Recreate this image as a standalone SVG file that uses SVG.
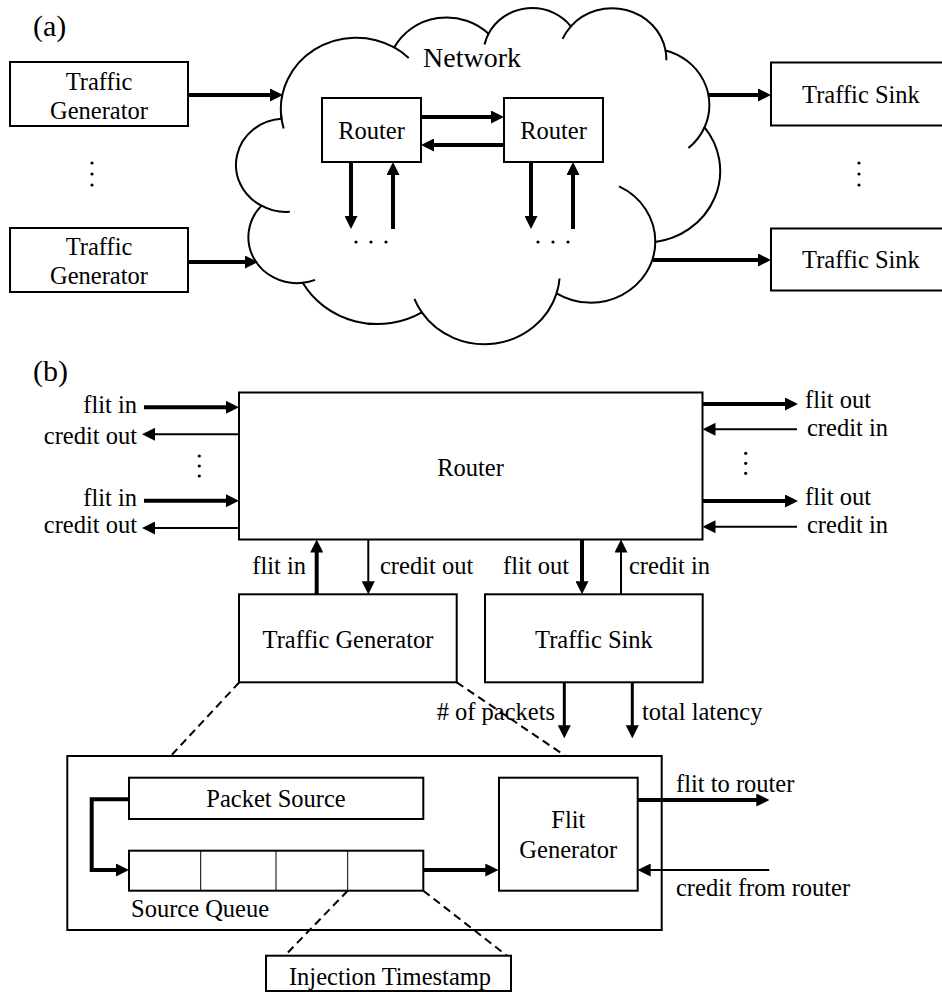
<svg xmlns="http://www.w3.org/2000/svg" width="942" height="997" viewBox="0 0 942 997">
  <defs>
    <style>
      .box { fill: #fff; stroke: #000; stroke-width: 2; }
      .cell { fill: none; stroke: #000; stroke-width: 1; }
      .cloud { fill: #fff; stroke: #000; stroke-width: 2; vector-effect: non-scaling-stroke; }
      .tail { fill: none; stroke: #000; stroke-width: 2; vector-effect: non-scaling-stroke; }
      .thick { fill: none; stroke: #000; stroke-width: 4; marker-end: url(#ah); }
      .mid3 { fill: none; stroke: #000; stroke-width: 3; marker-end: url(#ah); }
      .thin { fill: none; stroke: #000; stroke-width: 2; marker-end: url(#ah); }
      .dash { fill: none; stroke: #000; stroke-width: 2; stroke-dasharray: 8 5; }
      text { font-family: "Liberation Serif", "Times New Roman", serif; font-size: 24.5px; fill: #000; }
      .c { text-anchor: middle; }
      .e { text-anchor: end; }
      .big { font-size: 30px; }
      .dot { fill: #000; }
    </style>
    <marker id="ah" markerWidth="13" markerHeight="13" refX="3" refY="6.5" orient="auto" markerUnits="userSpaceOnUse">
      <path d="M0,0 L13,6.5 L0,13 Z" fill="#000"/>
    </marker>
  </defs>
  <rect width="942" height="997" fill="#fff"/>

  <!-- ===== (a) system overview ===== -->
  <text x="33" y="36" class="big">(a)</text>

  <!-- cloud outline: eleven overlapping elliptical arcs plus inner tails -->
  <g id="network" transform="translate(238,7) scale(0.011157,0.0077778)">
    <path class="cloud" d="M3900 14370 A6753 9190 0 0 1 14005 5202 A5333 7267 0 0 1 22457 3434 A4365 5945 0 0 1 29834 2483 A4857 6595 0 0 1 38318 5582 A5333 7273 0 0 1 41818 15465 A6775 9220 0 0 1 37403 30206 A5785 7867 0 0 1 28554 36816 A6752 9215 0 0 1 16477 39263 A7720 10543 0 0 1 5800 35467 A4360 5918 0 0 1 2110 25543 A4345 5945 0 0 1 3900 14370 Z"/>
    <path class="tail" d="M4644 26339 A4345 5945 0 0 1 2110 25543 M6908 35086 A4360 5918 0 0 1 5800 35467 M16477 39263 A6752 9215 0 0 1 15811 37526 M28821 34906 A6752 9215 0 0 1 28554 36816 M34151 23070 A5785 7867 0 0 1 37403 30206 M41818 15465 A5333 7273 0 0 1 40370 18141 M38318 5582 A4857 6595 0 0 1 38394 6845 M29091 4099 A4857 6595 0 0 1 29834 2483 M22098 4823 A4365 5945 0 0 1 22457 3434 M14005 5202 A6753 9190 0 0 1 15304 6549 M4089 15610 A6753 9190 0 0 1 3845 13534"/>
  </g>
  <text x="472" y="67" class="c" style="font-size:28px">Network</text>

  <g id="gen-a1">
    <rect class="box" x="10" y="62" width="178" height="64"/>
    <text x="99" y="89.5" class="c">Traffic</text>
    <text x="99" y="118.5" class="c">Generator</text>
  </g>
  <g id="gen-a2">
    <rect class="box" x="10" y="228" width="178" height="64"/>
    <text x="99" y="254.5" class="c">Traffic</text>
    <text x="99" y="284" class="c">Generator</text>
  </g>
  <g id="gen-a-more">
    <circle class="dot" cx="92" cy="163" r="1.6"/>
    <circle class="dot" cx="92" cy="174" r="1.6"/>
    <circle class="dot" cx="92" cy="185" r="1.6"/>
  </g>

  <g id="sink-a1">
    <rect class="box" x="771" y="62.5" width="182" height="63"/>
    <text x="861" y="103.3" class="c">Traffic Sink</text>
  </g>
  <g id="sink-a2">
    <rect class="box" x="771" y="228.5" width="182" height="62"/>
    <text x="861" y="268.3" class="c">Traffic Sink</text>
  </g>
  <g id="sink-a-more">
    <circle class="dot" cx="859" cy="163" r="1.6"/>
    <circle class="dot" cx="859" cy="174" r="1.6"/>
    <circle class="dot" cx="859" cy="185" r="1.6"/>
  </g>

  <g id="router-a1">
    <rect class="box" x="322" y="98" width="99" height="64"/>
    <text x="371.5" y="138.5" class="c">Router</text>
  </g>
  <g id="router-a2">
    <rect class="box" x="504" y="98" width="99" height="64"/>
    <text x="553.5" y="138.5" class="c">Router</text>
  </g>
  <g id="router-a-ports">
    <circle class="dot" cx="356" cy="242" r="1.6"/>
    <circle class="dot" cx="371" cy="242" r="1.6"/>
    <circle class="dot" cx="386" cy="242" r="1.6"/>
    <circle class="dot" cx="538" cy="242" r="1.6"/>
    <circle class="dot" cx="553" cy="242" r="1.6"/>
    <circle class="dot" cx="568" cy="242" r="1.6"/>
  </g>

  <g id="edges-a">
    <line class="thick" x1="188" y1="95" x2="273" y2="95"/>
    <line class="thick" x1="188" y1="262" x2="248" y2="262"/>
    <line class="thick" x1="708" y1="95" x2="761" y2="95"/>
    <line class="thick" x1="653" y1="260" x2="761" y2="260"/>
    <line class="thick" x1="421" y1="117" x2="494" y2="117"/>
    <line class="thick" x1="504" y1="145" x2="431" y2="145"/>
    <line class="thick" x1="351" y1="162" x2="351" y2="219"/>
    <line class="thick" x1="393" y1="229" x2="393" y2="172"/>
    <line class="thick" x1="531" y1="162" x2="531" y2="219"/>
    <line class="thick" x1="573" y1="229" x2="573" y2="172"/>
  </g>

  <!-- ===== (b) router interface and generator detail ===== -->
  <text x="33" y="381" class="big">(b)</text>

  <g id="router-b">
    <rect class="box" x="239" y="392.5" width="463.5" height="147"/>
    <text x="470.5" y="476" class="c">Router</text>
  </g>
  <g id="ports-b-labels">
    <text x="137" y="412.7" class="e">flit in</text>
    <text x="137" y="444" class="e">credit out</text>
    <text x="137" y="505.7" class="e">flit in</text>
    <text x="137" y="533.3" class="e">credit out</text>
    <circle class="dot" cx="199.3" cy="456" r="1.6"/>
    <circle class="dot" cx="199.3" cy="466" r="1.6"/>
    <circle class="dot" cx="199.3" cy="476" r="1.6"/>
    <text x="805" y="408.3">flit out</text>
    <text x="807" y="436">credit in</text>
    <text x="805" y="505">flit out</text>
    <text x="807" y="532.7">credit in</text>
    <circle class="dot" cx="745.7" cy="453.3" r="1.6"/>
    <circle class="dot" cx="745.7" cy="463.3" r="1.6"/>
    <circle class="dot" cx="745.7" cy="473.3" r="1.6"/>
    <text x="306" y="573.5" class="e">flit in</text>
    <text x="380" y="573.5">credit out</text>
    <text x="569" y="574" class="e">flit out</text>
    <text x="629" y="574">credit in</text>
    <text x="555" y="720" class="e"># of packets</text>
    <text x="642" y="720">total latency</text>
  </g>

  <g id="gen-b">
    <rect class="box" x="239" y="594.3" width="217.7" height="88"/>
    <text x="348" y="648.3" class="c">Traffic Generator</text>
  </g>
  <g id="sink-b">
    <rect class="box" x="485" y="594.3" width="217.7" height="88"/>
    <text x="594" y="648.3" class="c">Traffic Sink</text>
  </g>

  <g id="gen-detail">
    <rect class="box" x="67.3" y="756" width="594.4" height="174"/>
  </g>
  <g id="packet-source">
    <rect class="box" x="129" y="777.7" width="294.3" height="41.3"/>
    <text x="276" y="806.7" class="c">Packet Source</text>
  </g>
  <g id="source-queue">
    <rect class="box" x="129" y="850.7" width="294.3" height="40"/>
    <line class="cell" x1="200.7" y1="850.7" x2="200.7" y2="890.7"/>
    <line class="cell" x1="276" y1="850.7" x2="276" y2="890.7"/>
    <line class="cell" x1="347.7" y1="850.7" x2="347.7" y2="890.7"/>
    <text x="131" y="917.3">Source Queue</text>
  </g>
  <g id="flit-generator">
    <rect class="box" x="499" y="777.7" width="138.7" height="113"/>
    <text x="568.3" y="828.3" class="c">Flit</text>
    <text x="568.3" y="858.3" class="c">Generator</text>
  </g>
  <g id="injection-timestamp">
    <rect class="box" x="266" y="955.7" width="245" height="35.3"/>
    <text x="390" y="985" class="c">Injection Timestamp</text>
  </g>
  <g id="detail-labels">
    <text x="676" y="791.7">flit to router</text>
    <text x="676" y="896">credit from router</text>
  </g>

  <g id="edges-b">
    <line class="thick" x1="144" y1="407.3" x2="229" y2="407.3"/>
    <line class="thin" x1="239" y1="434.3" x2="152" y2="434.3"/>
    <line class="thick" x1="144" y1="500.7" x2="229" y2="500.7"/>
    <line class="thin" x1="239" y1="528" x2="152" y2="528"/>
    <line class="thick" x1="702.5" y1="404" x2="788" y2="404"/>
    <line class="thin" x1="797" y1="429.3" x2="712.5" y2="429.3"/>
    <line class="thick" x1="702.5" y1="501" x2="788" y2="501"/>
    <line class="thin" x1="797" y1="526.7" x2="712.5" y2="526.7"/>
    <line class="thick" x1="316.7" y1="594.3" x2="316.7" y2="549.5"/>
    <line class="thin" x1="368.3" y1="539.5" x2="368.3" y2="584.3"/>
    <line class="thick" x1="582" y1="539.5" x2="582" y2="584.3"/>
    <line class="thin" x1="621" y1="594.3" x2="621" y2="549.5"/>
    <line class="mid3" x1="564.3" y1="682.3" x2="564.3" y2="728.3"/>
    <line class="mid3" x1="632.3" y1="682.3" x2="632.3" y2="728.3"/>
    <polyline class="thick" points="129,799.3 91.7,799.3 91.7,870 119,870"/>
    <line class="thick" x1="423.3" y1="870" x2="488.3" y2="870"/>
    <line class="thick" x1="637.7" y1="800" x2="759.3" y2="800"/>
    <line class="thin" x1="769.3" y1="870" x2="647.7" y2="870"/>
    <line class="dash" x1="239.3" y1="682.3" x2="171.7" y2="755"/>
    <line class="dash" x1="456.7" y1="682.3" x2="565" y2="755.7"/>
    <line class="dash" x1="347.7" y1="890.7" x2="285" y2="955.5"/>
    <line class="dash" x1="423.3" y1="890.7" x2="506.7" y2="955.5"/>
  </g>
</svg>
